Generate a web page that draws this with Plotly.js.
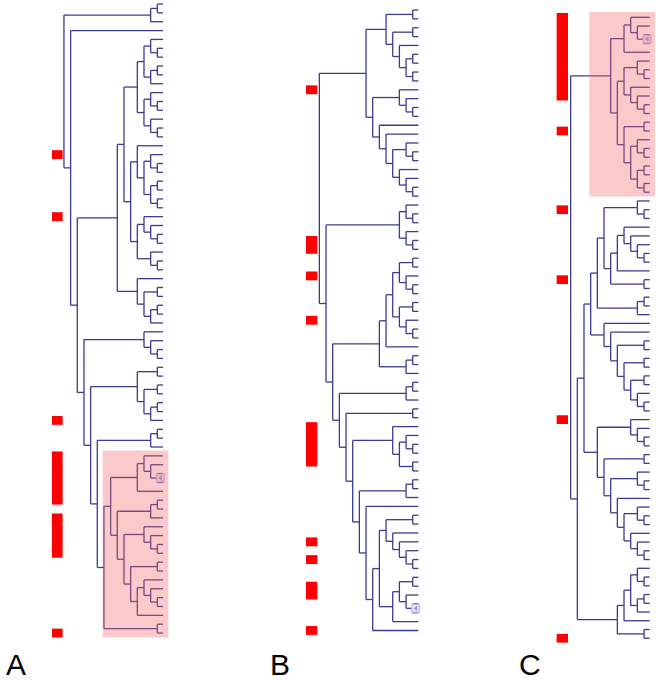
<!DOCTYPE html>
<html><head><meta charset="utf-8">
<script src="https://cdn.plot.ly/plotly-3.0.1.min.js"></script>
<style>html,body{margin:0;padding:0;background:#fff;}#chart{width:658px;height:680px;}</style>
</head><body><div id="chart"></div>
<script>
// ---------- DATA ----------
// Tree topologies: nested pairs, leaves are numbered top-to-bottom.
const A_top = [[0,1],2];
const A_c1 = [[[4,[5,6]],[[7,8],9]],[[10,[11,12]],[13,[14,15]]]];
const A_c2 = [16,[[17,[18,19]],[[20,21],[22,23]]]];
const A_c3 = [[24,[25,[26,27]]],[28,[29,30]]];
const A_c4 = [31,[[32,33],[[34,35],36]]];
const A_c5 = [37,[38,[39,40]]];
const A_c6 = [[41,42],[[43,44],[[45,46],47]]];
const A_c7 = [[48,49],50];
const A_c8 = [[51,[52,[53,54]]],55];
const A_c9 = [[56,57],58];
const A_c10 = [[59,[60,[61,62]]],[[63,64],[[65,[66,[67,68]]],69]]];
const A_c11 = [70,71];
const treeA = [A_top,[3,[[[A_c1,[A_c2,A_c3]],A_c4],[A_c5,[A_c6,[A_c7,[[A_c8,[A_c9,A_c10]],A_c11]]]]]]];

const B_top = [[[0,1],[[2,3],[4,[[5,6],[7,8]]]]],[[9,[10,[11,12]]],[13,[14,[[15,[16,17]],[18,[19,[20,21]]]]]]]];
const B_mid = [[22,[23,24]],[25,[26,27]]];
const B_low1 = [[[[[28,29],[30,[31,32]]],[[33,34],[35,[36,37]]]],38],[[39,40],41]];
const B_low2 = [[[42,43],44],[[45,46],[[47,[[48,[49,50]],[51,52]]],[[[53,54],55],[56,[[[[57,58],[59,[60,[61,[62,63]]]]],[[[64,65],[66,[67,68]]],69]],70]]]]]];
const treeB = [B_top,[B_mid,[B_low1,B_low2]]];

const C_pink = [[[0,[1,[2,3]]],4],[[[5,[6,7]],[8,[9,[10,11]]]],[[12,13],[[14,[15,16]],[[17,18],[19,20]]]]]];
const C_up = [[[[21,[22,23]],[[[24,[25,[26,[27,28]]]],29],[30,31]]],[[32,33],34]],[35,[36,[[37,38],[[39,40],[[41,42],[43,[44,45]]]]]]]];
const C_mid = [[46,[47,[48,49]]],[[50,51],[[52,[53,54]],[55,[[56,[57,58]],[59,[60,[61,62]]]]]]]];
const C_low = [[[[63,[64,65]],[[66,67],68]],69],[70,71]];
const treeC = [C_pink,[[C_up,C_mid],C_low]];

// Red marker bars: [first leaf, last leaf]
const barsA = [[17,17],[24,24],[47,47],[51,56],[58,62],[71,71]];
const barsB = [[9,9],[26,27],[30,30],[35,35],[47,51],[60,60],[62,62],[65,66],[70,70]];
const barsC = [[0,9],[13,13],[22,22],[30,30],[46,46],[71,71]];

// Highlighted clades (leaf ranges)
const boxA = [51,71];
const boxC = [0,20];

// Collapsed-node icons (between these leaves)
const iconA = [53,54];
const iconB = [67,68];
const iconC = [2,3];

const panelLabels = ['A','B','C'];

// ---------- LAYOUT HELPERS ----------
const LEAF_TIP = 0.15;
function layoutTree(tree){
  const xs=[], ys=[];
  function seg(x0,y0,x1,y1){xs.push(x0,x1,null);ys.push(y0,y1,null);}
  function rec(n){
    if(typeof n==='number') return {level:0,y:n,leaf:true};
    const kids=n.map(rec);
    const level=1+Math.max(...kids.map(k=>k.level));
    const yy=kids.map(k=>k.y);
    const lo=Math.min(...yy), hi=Math.max(...yy);
    seg(level,lo,level,hi);
    kids.forEach(k=>seg(level,k.y,k.leaf?LEAF_TIP:k.level,k.y));
    return {level,y:(lo+hi)/2};
  }
  const root=rec(tree);
  return {xs,ys,root};
}

const W=658,H=680,STEP=6.67;
const panels=[
  {tree:treeA,bars:barsA,box:boxA,icon:iconA,X0:164.0,Y0:4.0,S:8.86,barX:[15.2,16.8],label:'A',lx:4},
  {tree:treeB,bars:barsB,box:null,icon:iconB,X0:419.4,Y0:10.0,S:8.864,barX:[15.3,17.0],label:'B',lx:268},
  {tree:treeC,bars:barsC,box:boxC,icon:iconC,X0:650.7,Y0:17.3,S:8.746,barX:[12.4,14.1],label:'C',lx:517}
];

const LINE='#3b3b8f';
const traces=[], shapes=[], annotations=[];
const layout={width:W,height:H,margin:{l:0,r:0,t:0,b:0},paper_bgcolor:'#fff',plot_bgcolor:'#fff',showlegend:false};

panels.forEach((p,i)=>{
  const sx=i===0?'':String(i+1);
  const xa='x'+sx, ya='y'+sx;
  const t=layoutTree(p.tree);
  traces.push({type:'scatter',mode:'lines',x:t.xs,y:t.ys,xaxis:xa,yaxis:ya,
    line:{color:LINE,width:1.3},hoverinfo:'skip'});
  // icon
  const iy=(p.icon[0]+p.icon[1])/2;
  traces.push({type:'scatter',mode:'markers',x:[0.55],y:[iy],xaxis:xa,yaxis:ya,
    marker:{symbol:'square',size:8,color:'#e6e2f6',line:{color:'#bdb5e6',width:1}},hoverinfo:'skip'});
  traces.push({type:'scatter',mode:'markers',x:[0.5],y:[iy],xaxis:xa,yaxis:ya,
    marker:{symbol:'triangle-left',size:5,color:'#a59ade'},hoverinfo:'skip'});
  const axX={domain:[0,1],range:[p.X0/STEP,(p.X0-W)/STEP],visible:false,showgrid:false,zeroline:false,fixedrange:true};
  const axY={domain:[0,1],range:[(H-p.Y0)/p.S,-p.Y0/p.S],visible:false,showgrid:false,zeroline:false,fixedrange:true};
  if(i>0){axX.overlaying='x';axY.overlaying='y';axX.anchor=ya;axY.anchor=xa;}
  layout['xaxis'+sx]=axX; layout['yaxis'+sx]=axY;
  p.bars.forEach(b=>shapes.push({type:'rect',xref:xa,yref:ya,x0:p.barX[0],x1:p.barX[1],
    y0:b[0]-0.5,y1:b[1]+0.5,fillcolor:'#ff0000',line:{width:0},layer:'above'}));
  if(p.box) shapes.push({type:'rect',xref:xa,yref:ya,x0:9.2,x1:-0.65,y0:p.box[0]-0.6,y1:p.box[1]+0.5,
    fillcolor:'rgba(240,100,100,0.35)',line:{width:0},layer:'above'});
  annotations.push({text:p.label,xref:'paper',yref:'paper',x:p.lx/W,y:1-664/H,xanchor:'left',yanchor:'middle',
    showarrow:false,font:{family:'"Liberation Sans Narrow","Liberation Sans",sans-serif',size:30,color:'#000'}});
});
layout.shapes=shapes; layout.annotations=annotations;
Plotly.newPlot('chart',traces,layout,{staticPlot:true,displayModeBar:false});
</script>
</body></html>
